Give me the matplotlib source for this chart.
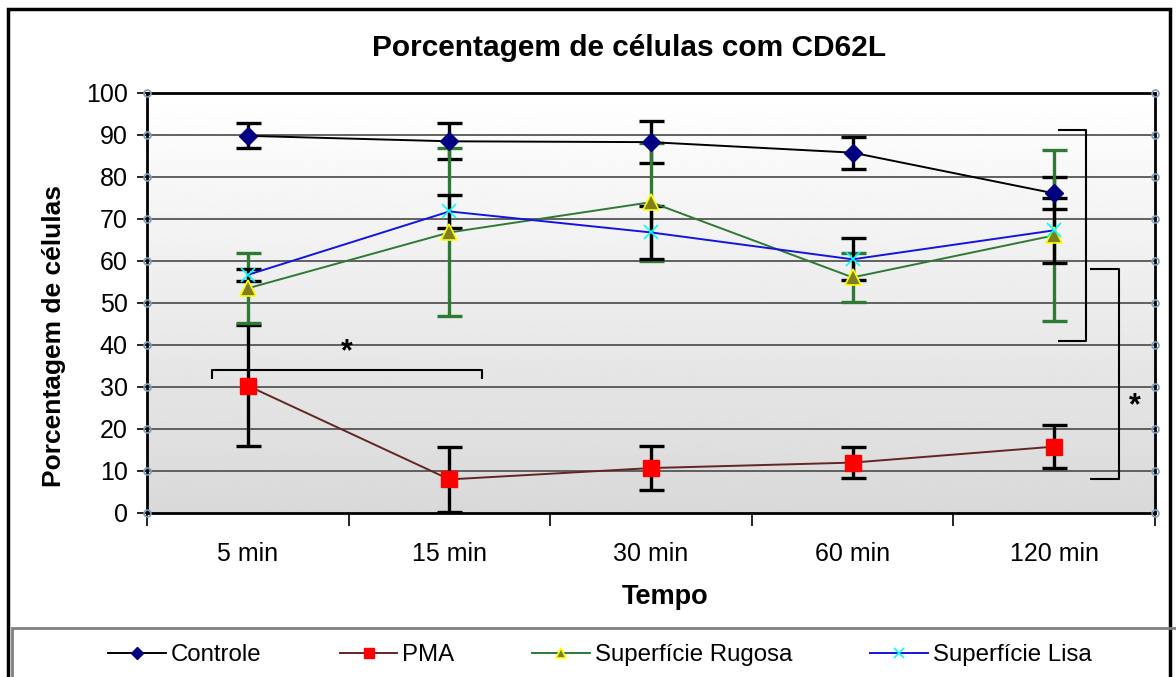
import numpy as np
import matplotlib
matplotlib.use("Agg")
import matplotlib.pyplot as plt
from matplotlib.patches import Rectangle
from matplotlib.path import Path
from matplotlib.patches import PathPatch

plt.rcParams['font.family'] = ['Liberation Sans', 'DejaVu Sans']

categories = ["5 min", "15 min", "30 min", "60 min", "120 min"]
controle = [89.8, 88.5, 88.3, 85.8, 76.1]
controle_err = [3.0, 4.3, 5.0, 3.8, 3.8]
pma = [30.3, 8.0, 10.7, 12.0, 15.8]
pma_err = [14.4, 7.7, 5.2, 3.6, 5.1]
rugosa = [53.5, 66.8, 74.0, 56.1, 66.1]
rugosa_err = [8.3, 20.0, 14.0, 5.9, 20.4]
lisa = [56.7, 71.8, 66.8, 60.4, 67.3]
lisa_err = [1.5, 4.0, 6.4, 5.0, 7.8]
yticks = list(range(0, 101, 10))

title = "Porcentagem de células com CD62L"
xlabel = "Tempo"
ylabel = "Porcentagem de células"

W, H = 1176, 677
fig = plt.figure(figsize=(W / 100, H / 100), dpi=100)
ax = fig.add_axes([147 / W, 1 - 513 / H, (1155 - 147) / W, (513 - 93) / H])

x = np.arange(len(categories))
ax.set_xlim(-0.5, len(categories) - 0.5)
ax.set_ylim(0, 100)

# gradient background (gray at bottom, white at top)
ax.imshow(np.linspace(0.85, 1.0, 256).reshape(-1, 1), cmap='gray', vmin=0, vmax=1,
          extent=[-0.5, len(categories) - 0.5, 0, 100], aspect='auto',
          origin='lower', zorder=0)

for yv in yticks[1:-1]:
    ax.axhline(yv, color='#555555', lw=1.3, zorder=1)

ekw = dict(capsize=9, capthick=2.4, elinewidth=2.4, fmt='none')
ax.errorbar(x, controle, yerr=controle_err, ecolor='black', zorder=2, **ekw)
ax.errorbar(x, pma, yerr=pma_err, ecolor='black', zorder=2, **ekw)
ax.errorbar(x, rugosa, yerr=rugosa_err, ecolor='#2e7a35', zorder=2, **ekw)
ax.errorbar(x, lisa, yerr=lisa_err, ecolor='black', zorder=2, **ekw)

l1, = ax.plot(x, controle, color='black', lw=1.4, marker='D', ms=9,
              mfc='#000080', mec='#000080', zorder=4, label='Controle')
l2, = ax.plot(x, pma, color='#632523', lw=1.4, marker='s', ms=12,
              mfc='#ff0000', mec='#ff0000', zorder=4, label='PMA')
l3, = ax.plot(x, rugosa, color='#2e7a35', lw=1.4, marker='^', ms=11,
              mfc='#7f7f20', mec='#ffff00', mew=1.2, zorder=4, label='Superfície Rugosa')
l4, = ax.plot(x, lisa, color='#1414e0', lw=1.4, marker='x', ms=10,
              mec='#00ffff', mew=1.2, zorder=4, label='Superfície Lisa')

for s in ax.spines.values():
    s.set_color('black')
    s.set_linewidth(2)

ax.set_yticks(yticks)
ax.set_yticklabels([str(v) for v in yticks], fontsize=18)
ax.tick_params(axis='y', direction='out', length=7, width=1.2, pad=7)
ax.set_xticks(x)
ax.set_xticklabels(categories, fontsize=18)
ax.set_xticks(np.arange(-0.5, len(categories), 1.0), minor=True)
ax.tick_params(axis='x', which='major', length=0, pad=21)
ax.tick_params(axis='x', which='minor', direction='out', length=9, width=1.2)

# small circles on y ticks (both sides)
tr = ax.get_yaxis_transform()
for xs in (0, 1):
    ax.plot([xs] * len(yticks), yticks, 'o', ms=5, mfc='none', mec='#7f9db9',
            mew=1.2, transform=tr, clip_on=False, zorder=6)

fig.text(629 / W, 1 - 48 / H, title, fontsize=21.5, fontweight='bold',
         ha='center', va='center')
fig.text(665 / W, 1 - 597 / H, xlabel, fontsize=19.5, fontweight='bold',
         ha='center', va='center')
fig.text(54 / W, 1 - 336 / H, ylabel, fontsize=19, fontweight='bold',
         ha='center', va='center', rotation=90)

# significance annotations
def bracket_h(x0, x1, y, drop):
    verts = [(x0, y - drop), (x0, y), (x1, y), (x1, y - drop)]
    p = Path(verts, [Path.MOVETO, Path.LINETO, Path.LINETO, Path.LINETO])
    ax.add_patch(PathPatch(p, fill=False, lw=1.5, color='black', zorder=5,
                           joinstyle='round'))

def bracket_v(xl, xr, y0, y1):
    verts = [(xl, y1), (xr, y1), (xr, y0), (xl, y0)]
    p = Path(verts, [Path.MOVETO, Path.LINETO, Path.LINETO, Path.LINETO])
    ax.add_patch(PathPatch(p, fill=False, lw=1.5, color='black', zorder=5,
                           clip_on=False, joinstyle='round'))

bracket_h(-0.18, 1.16, 34.0, 2.2)
ax.text(0.49, 34.8, "*", fontsize=22, fontweight='bold', ha='center', va='bottom')
bracket_v(4.02, 4.16, 40.9, 91.2)
bracket_v(4.18, 4.32, 8.0, 58.2)
ax.text(4.40, 25.5, "*", fontsize=22, fontweight='bold', ha='center', va='center')

# legend
leg = fig.legend(handles=[l1, l2, l3, l4], loc='center', ncol=4,
                 bbox_to_anchor=(600 / W, 1 - 655 / H), frameon=False,
                 fontsize=17.3, handlelength=2.4, handletextpad=0.2,
                 columnspacing=3.25, markerscale=0.65)

# outer frames
fig.patches.append(Rectangle((8 / W, -0.1), (1170 - 8) / W, 1 - 9 / H + 0.1,
                             transform=fig.transFigure, fill=False,
                             edgecolor='black', lw=2.5))
fig.patches.append(Rectangle((12 / W, -0.1), 1.0, 1 - 628 / H + 0.1,
                             transform=fig.transFigure, fill=False,
                             edgecolor='#808080', lw=2))

fig.savefig("out.png", dpi=100)
